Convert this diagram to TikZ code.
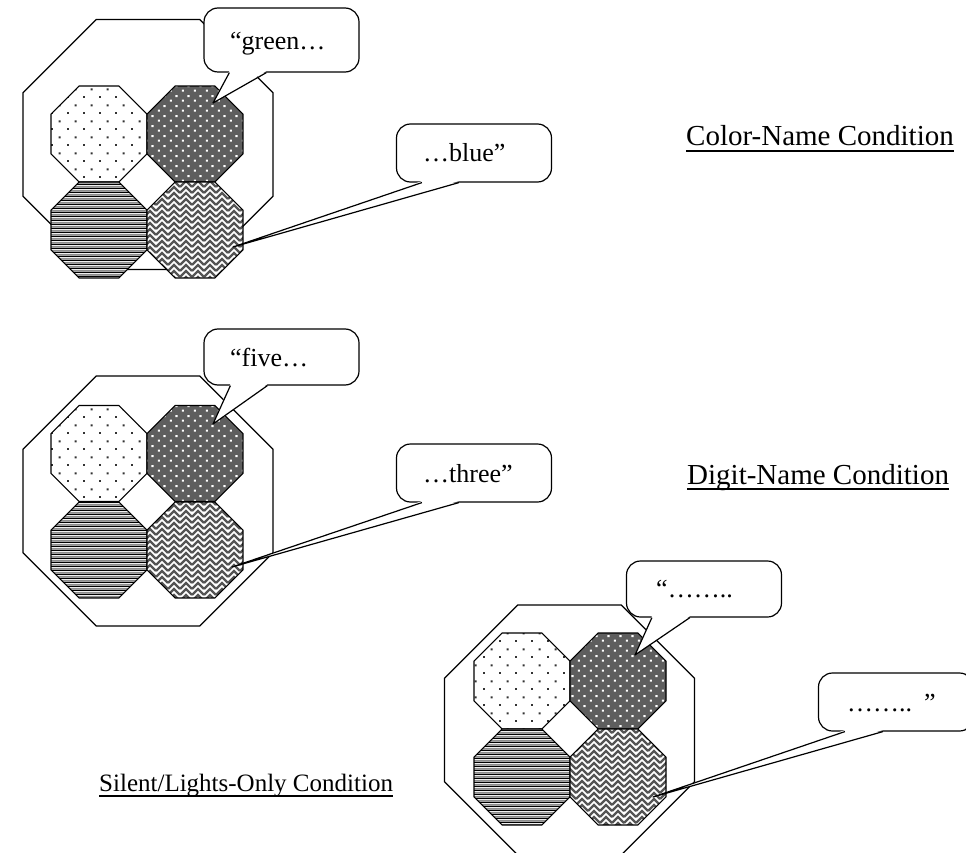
\documentclass[tikz,border=0pt]{standalone}
\usepackage{fontspec}
\setmainfont{Liberation Serif}
\usetikzlibrary{shapes.geometric,patterns}
\definecolor{D0}{HTML}{5e5e5e}
\definecolor{D1}{HTML}{8c8c8c}
\definecolor{D2}{HTML}{555555}

% fills of the four lights
\pgfdeclarepatternformonly{lightdots}{\pgfpointorigin}{\pgfpoint{16pt}{16pt}}{\pgfpoint{16pt}{16pt}}{%
  \pgfpathrectangle{\pgfpoint{3.2pt}{3.2pt}}{\pgfpoint{2pt}{2pt}}%
  \pgfpathrectangle{\pgfpoint{11.2pt}{11.2pt}}{\pgfpoint{2pt}{2pt}}%
  \pgfusepath{fill}}
\pgfdeclarepatternformonly{whitedots}{\pgfpointorigin}{\pgfpoint{12pt}{10pt}}{\pgfpoint{12pt}{10pt}}{%
  \pgfpathrectangle{\pgfpoint{2pt}{1.5pt}}{\pgfpoint{2.2pt}{2.2pt}}%
  \pgfpathrectangle{\pgfpoint{8pt}{6.5pt}}{\pgfpoint{2.2pt}{2.2pt}}%
  \pgfusepath{fill}}
\pgfdeclarepatterninherentlycolored{hstripes}{\pgfpointorigin}{\pgfpoint{4pt}{4.4pt}}{\pgfpoint{4pt}{4.4pt}}{%
  \pgfsetfillcolor{black}\pgfpathrectangle{\pgfpointorigin}{\pgfpoint{4pt}{1.5pt}}\pgfusepath{fill}%
  \pgfsetfillcolor{D1}\pgfpathrectangle{\pgfpoint{0pt}{2.2pt}}{\pgfpoint{4pt}{1.4pt}}\pgfusepath{fill}}
\pgfdeclarepatterninherentlycolored{weave}{\pgfpoint{-1pt}{-1pt}}{\pgfpoint{13pt}{13pt}}{\pgfpoint{12pt}{12pt}}{%
  \pgfsetstrokecolor{D2}\pgfsetlinewidth{2.4pt}%
  \pgfpathmoveto{\pgfpoint{0pt}{0pt}}\pgfpathlineto{\pgfpoint{6pt}{6pt}}\pgfpathlineto{\pgfpoint{12pt}{0pt}}%
  \pgfpathmoveto{\pgfpoint{0pt}{6pt}}\pgfpathlineto{\pgfpoint{6pt}{12pt}}\pgfpathlineto{\pgfpoint{12pt}{6pt}}%
  \pgfusepath{stroke}}

\tikzset{
  octo/.style={draw, line width=1.2pt, regular polygon, regular polygon sides=8, inner sep=0pt},
  ring/.style={octo, minimum size=270.6pt},
  lamp/.style={octo, minimum size=103.9pt},
  dotlamp/.style={lamp, pattern=lightdots, pattern color=black!80},
  darklamp/.style={lamp, preaction={fill=D0}, pattern=whitedots, pattern color=white},
  stripelamp/.style={lamp, preaction={fill=white}, pattern=hstripes},
  weavelamp/.style={lamp, preaction={fill=white}, pattern=weave},
  bubble/.style={draw, fill=white, line width=1.2pt, rounded corners=14pt, inner sep=0pt, minimum width=155pt},
  saying/.style={anchor=base west, inner sep=0pt, font=\fontsize{26}{30}\selectfont},
  condlabel/.style={anchor=base west, inner sep=0pt, font=\fontsize{29}{33}\selectfont},
  tail/.style={line width=1.2pt, line join=round},
}

\begin{document}
\begin{tikzpicture}[x=1pt, y=-1pt]%
\useasboundingbox (0,0) rectangle (966,853);%
% color-name condition
\node[ring] (ringA) at (148,144.5) {};%
\node[dotlamp] (a1) at (99,134) {};%
\node[darklamp] (a2) at (195,134) {};%
\node[stripelamp] (a3) at (99,230) {};%
\node[weavelamp] (a4) at (195,230) {};%
\node[bubble, minimum height=64pt] (greenbox) at (281.5,40) {};%
\coordinate (greenL) at ([xshift=26pt]greenbox.south west);%
\coordinate (greenR) at ([xshift=63pt]greenbox.south west);%
\coordinate (greentip) at (213,103);%
\fill[white] ([yshift=1.5pt]greenL) -- (greentip) -- ([yshift=1.5pt]greenR) -- cycle;%
\draw[tail] (greenL) -- (greentip) -- (greenR);%
\node[saying] (greentxt) at (230,50) {“green…};%
\node[bubble, minimum height=58pt] (bluebox) at (474,153) {};%
\coordinate (blueL) at ([xshift=26pt]bluebox.south west);%
\coordinate (blueR) at ([xshift=63pt]bluebox.south west);%
\coordinate (bluetip) at (233,247);%
\fill[white] ([yshift=1.5pt]blueL) -- (bluetip) -- ([yshift=1.5pt]blueR) -- cycle;%
\draw[tail] (blueL) -- (bluetip) -- (blueR);%
\node[saying] (bluetxt) at (423,162) {…blue”};%
\node[condlabel] (colorlab) at (686,146) {Color-Name Condition};%
\draw[line width=1.2pt] ([yshift=-5pt]colorlab.base west) -- ([yshift=-5pt]colorlab.base east);%
% digit-name condition
\node[ring] (ringB) at (148,501) {};%
\node[dotlamp] (b1) at (99,453.5) {};%
\node[darklamp] (b2) at (195,453.5) {};%
\node[stripelamp] (b3) at (99,550) {};%
\node[weavelamp] (b4) at (195,550) {};%
\node[bubble, minimum height=56pt] (fivebox) at (281.5,357) {};%
\coordinate (fiveL) at ([xshift=27pt]fivebox.south west);%
\coordinate (fiveR) at ([xshift=64pt]fivebox.south west);%
\coordinate (fivetip) at (213,424);%
\fill[white] ([yshift=1.5pt]fiveL) -- (fivetip) -- ([yshift=1.5pt]fiveR) -- cycle;%
\draw[tail] (fiveL) -- (fivetip) -- (fiveR);%
\node[saying] (fivetxt) at (230,366) {“five…};%
\node[bubble, minimum height=58pt] (threebox) at (474,473) {};%
\coordinate (threeL) at ([xshift=26pt]threebox.south west);%
\coordinate (threeR) at ([xshift=63pt]threebox.south west);%
\coordinate (threetip) at (232,567);%
\fill[white] ([yshift=1.5pt]threeL) -- (threetip) -- ([yshift=1.5pt]threeR) -- cycle;%
\draw[tail] (threeL) -- (threetip) -- (threeR);%
\node[saying] (threetxt) at (423,482) {…three”};%
\node[condlabel] (digitlab) at (687,484) {Digit-Name Condition};%
\draw[line width=1.2pt] ([yshift=-5pt]digitlab.base west) -- ([yshift=-5pt]digitlab.base east);%
% silent condition
\node[ring] (ringC) at (569.5,730) {};%
\node[dotlamp] (c1) at (522,681) {};%
\node[darklamp] (c2) at (618,681) {};%
\node[stripelamp] (c3) at (522,777) {};%
\node[weavelamp] (c4) at (618,777) {};%
\node[bubble, minimum height=56pt] (openbox) at (704,589) {};%
\coordinate (openL) at ([xshift=26pt]openbox.south west);%
\coordinate (openR) at ([xshift=64pt]openbox.south west);%
\coordinate (opentip) at (635,655);%
\fill[white] ([yshift=1.5pt]openL) -- (opentip) -- ([yshift=1.5pt]openR) -- cycle;%
\draw[tail] (openL) -- (opentip) -- (openR);%
\node[saying] (opentxt) at (656,597) {“……..};%
\node[bubble, minimum height=58pt] (closebox) at (896,702) {};%
\coordinate (closeL) at ([xshift=27pt]closebox.south west);%
\coordinate (closeR) at ([xshift=65pt]closebox.south west);%
\coordinate (closetip) at (653,797);%
\fill[white] ([yshift=1.5pt]closeL) -- (closetip) -- ([yshift=1.5pt]closeR) -- cycle;%
\draw[tail] (closeL) -- (closetip) -- (closeR);%
\node[saying] (closetxt) at (847,711) {……..\hspace{12pt}”};%
\node[condlabel, font=\fontsize{25}{29}\selectfont] (silentlab) at (99,791) {Silent/Lights-Only Condition};%
\draw[line width=1.2pt] ([yshift=-5pt]silentlab.base west) -- ([yshift=-5pt]silentlab.base east);%
\end{tikzpicture}
\end{document}
